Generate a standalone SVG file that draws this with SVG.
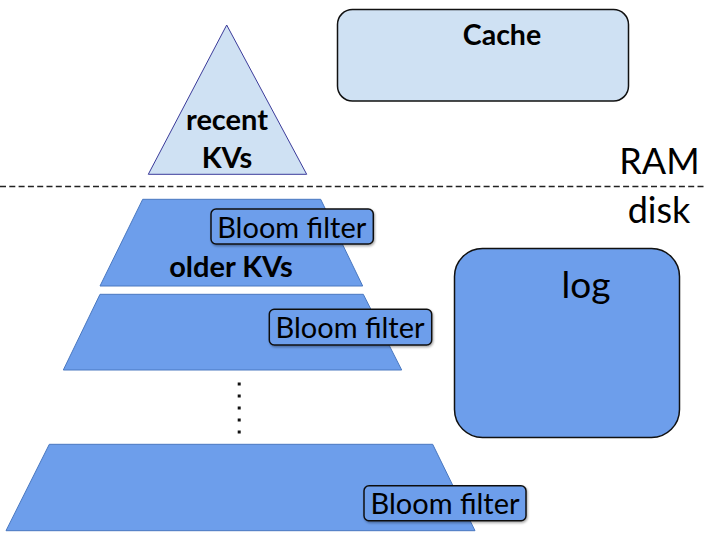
<svg xmlns="http://www.w3.org/2000/svg" width="704" height="543" viewBox="0 0 704 543">
<defs>
<filter id="sh" x="-10%" y="-20%" width="120%" height="150%">
<feDropShadow dx="1" dy="1.5" stdDeviation="1" flood-color="#000" flood-opacity="0.35"/>
</filter>
</defs>
<style>
.lbl{font-family:Lato,"Open Sans","Liberation Sans",sans-serif;fill:#000}
.b{font-weight:bold}
.level{fill:#6d9eeb;stroke:#4a78c0;stroke-width:1}
.bloom{fill:#6d9eeb;stroke:#111;stroke-width:1.5;filter:url(#sh)}
.bt{font-size:29px;text-anchor:middle}
</style>
<rect width="704" height="543" fill="#fff"/>
<g id="connectors">
<line x1="0" y1="186.5" x2="704" y2="186.5" stroke="#222" stroke-width="1.4" stroke-dasharray="6,3.3"/>
</g>
<g id="memtable">
<polygon points="226.7,25 306.7,174.3 148.3,174.3" fill="#cfe1f3" stroke="#3b3b9a" stroke-width="1"/>
<text class="lbl b" x="227" y="130" font-size="29" text-anchor="middle">recent</text>
<text class="lbl b" x="227" y="167.7" font-size="29" text-anchor="middle">KVs</text>
</g>
<g id="cache">
<rect x="337.5" y="9.5" width="291" height="91.5" rx="15" fill="#cfe1f3" stroke="#111" stroke-width="1.5"/>
<text class="lbl b" x="502" y="44.5" font-size="28.5" text-anchor="middle">Cache</text>
</g>
<g id="ram-label">
<text class="lbl" x="659.5" y="174" font-size="36" text-anchor="middle">RAM</text>
</g>
<g id="disk-label">
<text class="lbl" x="659" y="223.3" font-size="36" text-anchor="middle">disk</text>
</g>
<g id="level1">
<polygon class="level" points="142.7,199.3 320.7,199.3 362.7,286 100,286"/>
<text class="lbl b" x="231" y="276.7" font-size="29" text-anchor="middle">older KVs</text>
</g>
<g id="bloom1">
<rect class="bloom" x="211" y="209" width="162.3" height="35" rx="5"/>
<text class="lbl bt" x="291.7" y="238.3">Bloom filter</text>
</g>
<g id="level2">
<polygon class="level" points="100,294.3 363.3,294.3 401.7,370 63.3,370"/>
</g>
<g id="bloom2">
<rect class="bloom" x="269.3" y="309.3" width="162.4" height="35.7" rx="5"/>
<text class="lbl bt" x="350" y="338.3">Bloom filter</text>
</g>
<g id="ellipsis">
<g fill="#111">
<rect x="237.7" y="382.5" width="3" height="3"/>
<rect x="237.7" y="394.5" width="3" height="3"/>
<rect x="237.7" y="406.5" width="3" height="3"/>
<rect x="237.7" y="418.5" width="3" height="3"/>
<rect x="237.7" y="430.5" width="3" height="3"/>
</g>
</g>
<g id="level3">
<polygon class="level" points="49.3,444.3 432.7,444.3 475,530.7 6,530.7"/>
</g>
<g id="bloom3">
<rect class="bloom" x="364" y="485.7" width="162" height="35" rx="5"/>
<text class="lbl bt" x="445" y="514">Bloom filter</text>
</g>
<g id="log">
<rect x="454.5" y="248.5" width="225" height="189" rx="28" fill="#6d9eeb" stroke="#111" stroke-width="1.5"/>
<text class="lbl" x="586" y="298.3" font-size="37" text-anchor="middle">log</text>
</g>
</svg>
